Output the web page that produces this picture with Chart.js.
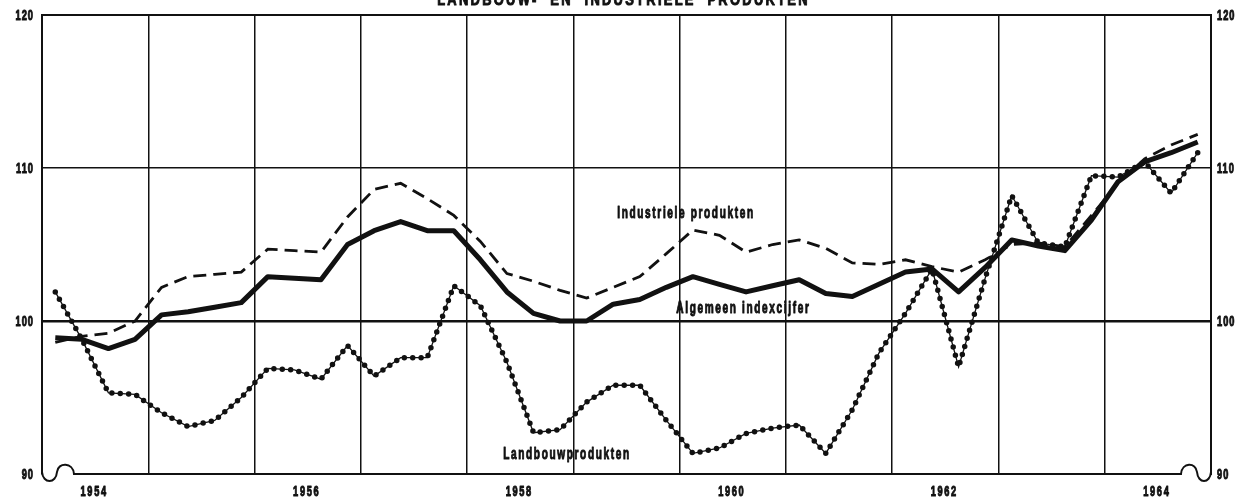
<!DOCTYPE html>
<html>
<head>
<meta charset="utf-8">
<script src="https://cdn.jsdelivr.net/npm/chart.js@4.4.1/dist/chart.umd.min.js"></script>
<style>
    html, body { margin: 0; padding: 0; background: #fff; overflow: hidden; }
    #wrap { position: absolute; left: 0; top: -10px; width: 1249px; height: 510px; }
</style>
</head>
<body>
<div id="wrap"><canvas id="chart"></canvas></div>
<script>
// Years on the x axis, one quarterly value per quarter
const years = [1954, 1955, 1956, 1957, 1958, 1959, 1960, 1961, 1962, 1963, 1964];
const labelYears = [1954, 1956, 1958, 1960, 1962, 1964];
const yTicks = [90, 100, 110, 120];

// Index numbers (quarterly, 1954 Q1 .. 1964 Q4)
const algemeen = [98.9, 98.8, 98.2, 98.8, 100.4, 100.6, 100.9, 101.2, 102.9, 102.8, 102.7, 105.0,
    105.9, 106.5, 105.9, 105.9, 104.0, 101.9, 100.5, 100.0, 100.0, 101.1, 101.4, 102.2,
    102.9, 102.4, 101.9, 102.3, 102.7, 101.8, 101.6, 102.4, 103.2, 103.4, 101.9, 103.5,
    105.3, 104.9, 104.6, 106.6, 109.1, 110.4, 111.0, 111.7];

const industriele = [98.6, 99.0, 99.2, 100.0, 102.2, 102.9, 103.05, 103.2, 104.7, 104.6, 104.5, 106.8,
    108.6, 109.0, 108.0, 106.9, 105.2, 103.1, 102.6, 102.0, 101.5, 102.2, 102.9, 104.4,
    105.95, 105.6, 104.5, 105.0, 105.3, 104.75, 103.8, 103.7, 104.0, 103.55, 103.2, 104.0,
    105.0, 105.1, 104.85, 106.9, 109.0, 110.6, 111.5, 112.2];

const landbouw = [101.9, 98.8, 95.3, 95.2, 94.0, 93.1, 93.5, 95.0, 96.9, 96.8, 96.2, 98.4,
    96.4, 97.6, 97.6, 102.3, 101.0, 97.3, 92.7, 92.9, 94.7, 95.8, 95.8, 93.5,
    91.35, 91.7, 92.65, 93.0, 93.2, 91.35, 94.2, 97.9, 100.5, 103.4, 97.0, 102.8,
    108.2, 105.1, 104.85, 109.5, 109.4, 110.4, 108.35, 111.0];

// Text labels placed on the chart (x in years, y in index points)
const chartTitle = 'LANDBOUW-  EN  INDUSTRIELE  PRODUKTEN';
const seriesLabels = [
    { text: 'Industriele produkten', x: 1960.06, y: 107.05 },
    { text: 'Algemeen indexcijfer', x: 1960.6, y: 100.8 },
    { text: 'Landbouwprodukten', x: 1958.94, y: 91.25 }
];

const ink = '#111';
const fontFamily = '"Liberation Sans", Arial, sans-serif';

// Quarter midpoints as decimal years
const quarterX = [];
years.forEach(y => {
    for (let q = 0; q < 4; q++) quarterX.push(y + (q + 0.5) / 4);
});

function toPoints(values) {
    return values.map((v, i) => ({ x: quarterX[i], y: v }));
}

function yearLabel(v) {
    const y = Math.floor(v);
    return (Math.abs(v - y - 0.5) < 1e-6 && labelYears.includes(y)) ? String(y) : '';
}

// Narrow heavy lettering like the printed original
function condensedText(ctx, text, x, y, squeeze, spacing) {
    ctx.save();
    ctx.translate(x, y);
    ctx.scale(squeeze, 1);
    ctx.letterSpacing = spacing + 'px';
    ctx.fillText(text, 0, 0);
    ctx.strokeStyle = ink;
    ctx.lineWidth = 1;
    ctx.lineJoin = 'round';
    ctx.strokeText(text, 0, 0);
    ctx.restore();
}

// Draws title, axis labels, series labels and the axis break marks
const decorations = {
    id: 'decorations',
    afterDraw(chart) {
        const ctx = chart.ctx;
        const area = chart.chartArea;
        const xs = chart.scales.x;
        const ys = chart.scales.y;
        const ys2 = chart.scales.y2;

        ctx.save();
        ctx.fillStyle = ink;

        // title (mostly cut off at the top edge)
        ctx.font = 'bold 17px ' + fontFamily;
        ctx.textAlign = 'center';
        ctx.textBaseline = 'alphabetic';
        condensedText(ctx, chartTitle, (area.left + area.right) / 2 - 3, 15, 0.76, 3);

        // tick labels, left and right
        ctx.font = 'bold 14px ' + fontFamily;
        ctx.textBaseline = 'middle';
        ys.ticks.forEach(t => {
            ctx.textAlign = 'right';
            condensedText(ctx, String(t.value), area.left - 8, ys.getPixelForValue(t.value) + 1, 0.66, 1.5);
        });
        ys2.ticks.forEach(t => {
            ctx.textAlign = 'left';
            condensedText(ctx, String(t.value), area.right + 6, ys2.getPixelForValue(t.value) + 1, 0.66, 1.5);
        });
        ctx.textAlign = 'center';
        xs.ticks.forEach(t => {
            const txt = yearLabel(t.value);
            if (txt) condensedText(ctx, txt, xs.getPixelForValue(t.value) - 1, area.bottom + 18, 0.66, 2.5);
        });

        // series labels
        ctx.font = 'bold 16px ' + fontFamily;
        seriesLabels.forEach(l => {
            condensedText(ctx, l.text, xs.getPixelForValue(l.x), ys.getPixelForValue(l.y), 0.63, 2.6);
        });

        // bottom line with break marks at both ends
        const b = area.bottom, L = area.left, R = area.right;
        ctx.strokeStyle = ink;
        ctx.lineWidth = 2;
        ctx.beginPath();
        ctx.moveTo(L, b - 2);
        ctx.bezierCurveTo(L + 1, b + 10, L + 14, b + 10, L + 15, b - 2);
        ctx.bezierCurveTo(L + 16, b - 12, L + 31, b - 12, L + 32, b);
        ctx.lineTo(R - 30, b);
        ctx.bezierCurveTo(R - 29, b - 12, R - 15, b - 12, R - 14, b - 2);
        ctx.bezierCurveTo(R - 13, b + 10, R - 1, b + 10, R, b - 2);
        ctx.stroke();
        ctx.restore();
    }
};

new Chart(document.getElementById('chart'), {
    type: 'line',
    data: {
        datasets: [
            {
                label: 'Landbouwprodukten',
                data: toPoints(landbouw),
                borderColor: ink,
                borderWidth: 1.3,
                pointRadius: 0,
                tension: 0
            },
            {
                label: 'Landbouwprodukten (punten)',
                data: toPoints(landbouw),
                borderColor: ink,
                borderWidth: 5.5,
                borderDash: [0, 8.4],
                borderCapStyle: 'round',
                pointRadius: 0,
                tension: 0
            },
            {
                label: 'Industriele produkten',
                data: toPoints(industriele),
                borderColor: ink,
                borderWidth: 2.8,
                borderDash: [13, 7],
                pointRadius: 0,
                tension: 0
            },
            {
                label: 'Algemeen indexcijfer',
                data: toPoints(algemeen),
                borderColor: ink,
                borderWidth: 5,
                borderJoinStyle: 'round',
                pointRadius: 0,
                tension: 0
            }
        ]
    },
    options: {
        responsive: true,
        maintainAspectRatio: false,
        animation: false,
        devicePixelRatio: 1,
        layout: { padding: { top: 25, left: 0, right: 0, bottom: 0 } },
        plugins: {
            legend: { display: false },
            tooltip: { enabled: false },
            title: { display: false }
        },
        scales: {
            x: {
                type: 'linear',
                position: 'bottom',
                min: years[0],
                max: years[years.length - 1] + 1,
                afterFit: s => { s.height = 26; },
                border: { display: false },
                grid: {
                    drawTicks: false,
                    lineWidth: 1.5,
                    color: c => (c.tick && c.tick.value % 1 === 0) ? ink : 'rgba(0,0,0,0)'
                },
                ticks: { display: false, stepSize: 0.5, autoSkip: false, callback: yearLabel }
            },
            y: {
                position: 'left',
                min: yTicks[0],
                max: yTicks[yTicks.length - 1],
                afterFit: s => { s.width = 42; },
                afterBuildTicks: s => { s.ticks = yTicks.map(v => ({ value: v })); },
                border: { display: true, width: 2, color: ink },
                grid: {
                    drawTicks: false,
                    color: c => c.tick.value === 90 ? 'rgba(0,0,0,0)' : ink,
                    lineWidth: c => c.tick.value === 100 ? 2.5 : (c.tick.value === 120 ? 2 : 1.5)
                },
                ticks: { display: false }
            },
            y2: {
                position: 'right',
                min: yTicks[0],
                max: yTicks[yTicks.length - 1],
                afterFit: s => { s.width = 38; },
                afterBuildTicks: s => { s.ticks = yTicks.map(v => ({ value: v })); },
                border: { display: true, width: 2, color: ink },
                grid: { display: false, drawTicks: false },
                ticks: { display: false }
            }
        }
    },
    plugins: [decorations]
});
</script>
</body>
</html>
